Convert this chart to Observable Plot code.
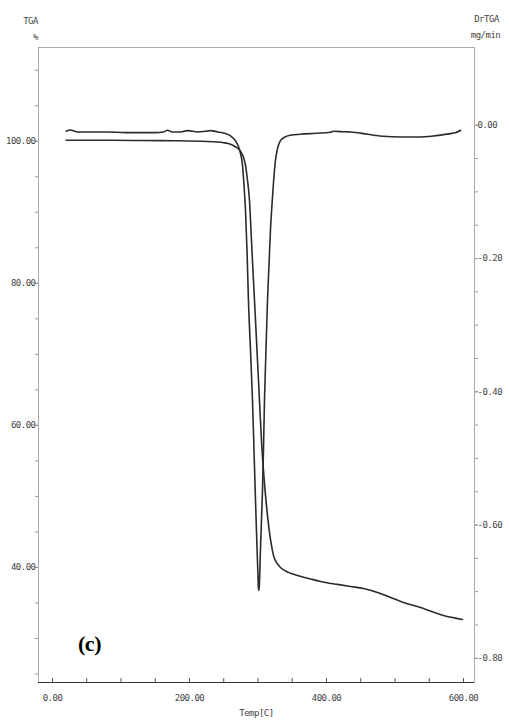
<!DOCTYPE html>
<html><head><meta charset="utf-8">
<script src="https://cdn.jsdelivr.net/npm/d3@7"></script>
<script src="https://cdn.jsdelivr.net/npm/@observablehq/plot@0.6"></script>
<style>
html,body{margin:0;padding:0;background:#fff;}
#chart svg{display:block;}
</style></head><body><div id="chart"></div>
<script>
// TGA curve (weight %, left axis)
const tgaTemp = [20,55,80,128,177,226,250,260,267,274.5,278.8,281.8,284.7,287.6,290.5,293.4,296.4,299.3,302.2,305.1,308,311,313.9,316.8,319.7,322.6,327,332.8,344.5,357.7,376.6,391.2,416.1,435,454,478.8,493.4,512.4,537.2,570.8,598.5];
const tgaPct = [100.14,100.14,100.14,100.10,100.07,99.97,99.79,99.58,99.23,98.59,97.75,96.62,94.51,91.69,86.06,80.42,74.79,69.15,63.52,57.89,53.66,50.14,47.32,44.93,43.10,41.69,40.70,40.00,39.30,38.87,38.38,38.03,37.61,37.32,37.04,36.34,35.77,35.07,34.37,33.24,32.68];
// DrTGA curve (mg/min, right axis)
const dtgTemp = [20,26,37,56,80,107,129,150,162,168,175,187,197,212,223,231,241,251,260,267,271.5,274.5,277.4,279.6,281.8,284,286.1,289.1,292,294.2,296.4,298.5,300,300.7,301.5,302.2,303.6,305.1,306.6,308,309.5,311.7,313.9,316.1,318.2,320.4,322.6,325.5,328.5,332.8,338.7,347.4,362,384,405.8,410.2,427.7,435,460,483,508,533,556,581,588,596];
const dtgRate = [-0.009,-0.007,-0.010,-0.010,-0.010,-0.011,-0.011,-0.011,-0.010,-0.0075,-0.010,-0.010,-0.008,-0.010,-0.009,-0.008,-0.010,-0.012,-0.016,-0.023,-0.032,-0.042,-0.060,-0.090,-0.128,-0.188,-0.263,-0.338,-0.413,-0.488,-0.563,-0.631,-0.676,-0.695,-0.698,-0.686,-0.638,-0.593,-0.548,-0.488,-0.413,-0.338,-0.263,-0.210,-0.158,-0.120,-0.087,-0.053,-0.035,-0.023,-0.018,-0.015,-0.0135,-0.012,-0.0105,-0.009,-0.0098,-0.0101,-0.0135,-0.0165,-0.0176,-0.0176,-0.0161,-0.0125,-0.0113,-0.0075];

// ticks
const xTicks = [0,200,400,600];
const xMinor = [0,50,100,150,200,250,300,350,400,450,500,550,600];
const leftTicks = [40,60,80,100];
const leftMinor = [25,30,35,40,45,50,55,60,65,70,75,80,85,90,95,100,105,110];
const rightTicks = [-0.8,-0.6,-0.4,-0.2,0];
const rightMinor = [-0.80,-0.75,-0.70,-0.65,-0.60,-0.55,-0.50,-0.45,-0.40,-0.35,-0.30,-0.25,-0.20,-0.15,-0.10,-0.05,0];

// texts
const leftTitle = ["TGA"];
const leftUnit = ["%"];
const rightTitle = ["DrTGA"];
const rightUnit = ["mg/min"];
const xTitle = ["Temp[C]"];
const panelLabel = ["(c)"];

// scale domains
const xDomain = [-20.4, 616.1];
const yDomain = [23.8, 113.2];
// secondary axis mapping (mg/min -> % scale)
const drOffset = 102.25, drGain = 93.8;
const toLeft = d => drOffset + drGain * d;
const fromLeft = v => (v - drOffset) / drGain;
const fmt2 = d => { const s = d.toFixed(2); return s === "-0.00" ? "0.00" : s; };

const tga = tgaTemp.map((t, i) => ({t, v: tgaPct[i]}));
const dtg = dtgTemp.map((t, i) => ({t, v: toLeft(dtgRate[i])}));

const mono = "DejaVu Sans Mono, monospace";
const lab = {fontFamily: mono, fontSize: 9, fill: "#444", textAnchor: "middle", lineAnchor: "middle", x: null, y: null};

const W = 509, H = 722, mT = 47, mB = 40;

const chart = Plot.plot({
  width: W, height: H,
  marginLeft: 38, marginRight: 35, marginTop: mT, marginBottom: mB,
  style: {fontFamily: mono, fontSize: "9px", color: "#444", background: "#fff", letterSpacing: "-0.5px"},
  x: {domain: xDomain, label: null},
  y: {domain: yDomain, label: null},
  marks: [
    Plot.frame({stroke: "#aaa"}),
    Plot.ruleY([yDomain[0]], {stroke: "#333", strokeWidth: 1.2}),
    // left axis
    Plot.axisY(leftMinor, {anchor: "left", tickSize: 3, tickFormat: () => "", stroke: "#999", label: null}),
    Plot.axisY(leftTicks, {anchor: "left", tickSize: 3, tickPadding: 0, tickFormat: d => d.toFixed(2), stroke: "#999", label: null}),
    // right axis
    Plot.axisY(rightMinor.map(toLeft), {anchor: "right", tickSize: 3, tickFormat: () => "", stroke: "#999", label: null}),
    Plot.axisY(rightTicks.map(toLeft), {anchor: "right", tickSize: 3, tickPadding: 0, tickFormat: v => fmt2(fromLeft(v)), stroke: "#999", label: null}),
    // bottom axis: inward ticks + labels
    Plot.tickX(xMinor, {x: d => d, insetTop: H - mT - mB - 4, stroke: "#555"}),
    Plot.axisX(xTicks, {anchor: "bottom", tickSize: 0, tickPadding: 12, tickFormat: d => d.toFixed(2), label: null}),
    // curves
    Plot.line(dtg, {x: "t", y: "v", stroke: "#2b2b2b", strokeWidth: 1.6, curve: "monotone-x"}),
    Plot.line(tga, {x: "t", y: "v", stroke: "#2b2b2b", strokeWidth: 1.6, curve: "monotone-x"}),
    // titles
    Plot.text(leftTitle, {...lab, text: d => d, frameAnchor: "top-left", dx: -8, dy: -26}),
    Plot.text(leftUnit, {...lab, text: d => d, frameAnchor: "top-left", dx: -3, dy: -10}),
    Plot.text(rightTitle, {...lab, text: d => d, frameAnchor: "top-right", dx: 12, dy: -28}),
    Plot.text(rightUnit, {...lab, text: d => d, frameAnchor: "top-right", dx: 11, dy: -12}),
    Plot.text(xTitle, {...lab, text: d => d, frameAnchor: "bottom", dx: 0, dy: 31}),
    Plot.text(panelLabel, {...lab, text: d => d, frameAnchor: "bottom-left", dx: 51, dy: -39,
      fontFamily: "Liberation Serif, Times New Roman, serif", fontWeight: "bold", fontSize: 22, fill: "#000"})
  ]
});
document.getElementById("chart").appendChild(chart);
</script>
</body></html>
